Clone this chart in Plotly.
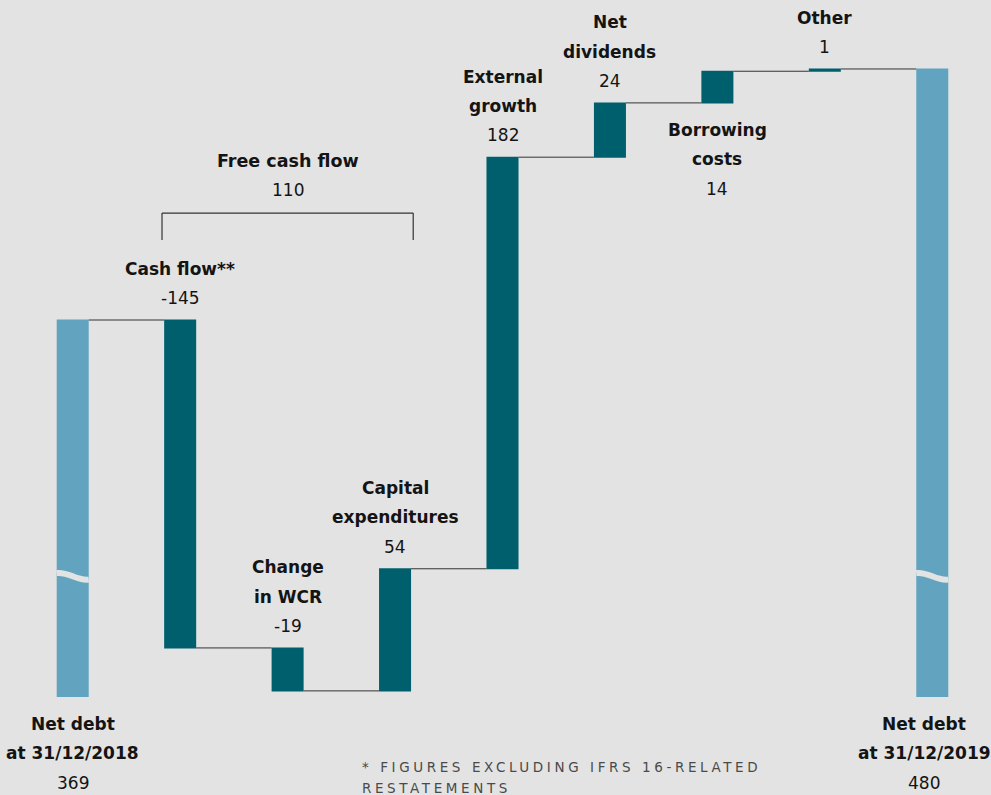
import plotly.graph_objects as go

# ---------------- data ----------------
label_lines = [
    ["Net debt", "at 31/12/2018"],
    ["Cash flow**"],
    ["Change", "in WCR"],
    ["Capital", "expenditures"],
    ["External", "growth"],
    ["Net", "dividends"],
    ["Borrowing", "costs"],
    ["Other"],
    ["Net debt", "at 31/12/2019"],
]
values = [369, -145, -19, 54, 182, 24, 14, 1, 480]
measures = ["absolute", "relative", "relative", "relative", "relative",
            "relative", "relative", "relative", "total"]
label_side = ["below", "above", "above", "above", "above", "above", "below", "above", "below"]
fcf_label = "Free cash flow"
fcf_members = [1, 2, 3]
footnote_lines = ["* FIGURES EXCLUDING IFRS 16-RELATED", "RESTATEMENTS"]

# ---------------- style ----------------
BG = "#e3e3e3"
DARK = "#005f6d"
LIGHT = "#62a4bf"
TXT = "#141414"
FONT = "DejaVu Sans"
FS = 17
Y_MIN, Y_MAX = 202.3, 510.5
BAR_W = 0.298

x = list(range(len(values)))

fig = go.Figure(go.Waterfall(
    x=x, y=values, measure=measures,
    width=[BAR_W] * len(values),
    increasing=dict(marker=dict(color=DARK)),
    decreasing=dict(marker=dict(color=DARK)),
    totals=dict(marker=dict(color=LIGHT)),
    connector=dict(mode="between", line=dict(color="#333333", width=1)),
    textinfo="none", hoverinfo="skip",
))

# levels from the data
tops, bottoms = [], []
level = 0
for v, m in zip(values, measures):
    if m == "absolute":
        level = v
        tops.append(v); bottoms.append(Y_MIN)
    elif m == "total":
        tops.append(level); bottoms.append(Y_MIN)
    else:
        before = level
        level = level + v
        tops.append(max(before, level)); bottoms.append(min(before, level))

annotations = []
STEP = 29.3
for i, (lines, v, side) in enumerate(zip(label_lines, values, label_side)):
    xshift = -8 if i == len(values) - 1 else 0
    if side == "above":
        stack = [(str(v), False)] + [(l, True) for l in reversed(lines)]
        for k, (t, bold) in enumerate(stack):
            annotations.append(dict(
                x=i, y=tops[i], xref="x", yref="y", yanchor="middle", xanchor="center",
                yshift=22 + STEP * k, xshift=xshift, showarrow=False,
                text=f"<b>{t}</b>" if bold else t,
                font=dict(family=FONT, size=FS, color=TXT)))
    else:
        stack = [(l, True) for l in lines] + [(str(v), False)]
        for k, (t, bold) in enumerate(stack):
            annotations.append(dict(
                x=i, y=bottoms[i], xref="x", yref="y", yanchor="middle", xanchor="center",
                yshift=-(27 + STEP * k), xshift=xshift, showarrow=False,
                text=f"<b>{t}</b>" if bold else t,
                font=dict(family=FONT, size=FS, color=TXT)))

# Free cash flow bracket
fcf_value = -sum(values[i] for i in fcf_members)
BR_Y = 416.3
BR_TICK = 11.9
bx0 = fcf_members[0] - BAR_W / 2 - 0.02
bx1 = fcf_members[-1] + BAR_W / 2 + 0.02
shapes = [
    dict(type="line", xref="x", yref="y", x0=bx0, x1=bx1, y0=BR_Y, y1=BR_Y,
         line=dict(color="#333333", width=1.2)),
    dict(type="line", xref="x", yref="y", x0=bx0, x1=bx0, y0=BR_Y, y1=BR_Y - BR_TICK,
         line=dict(color="#333333", width=1.2)),
    dict(type="line", xref="x", yref="y", x0=bx1, x1=bx1, y0=BR_Y, y1=BR_Y - BR_TICK,
         line=dict(color="#333333", width=1.2)),
]
bx_mid = (fcf_members[0] + fcf_members[-1]) / 2
annotations.append(dict(x=bx_mid, y=BR_Y, xref="x", yref="y", yanchor="middle", yshift=23,
                        showarrow=False, text=str(fcf_value),
                        font=dict(family=FONT, size=FS, color=TXT)))
annotations.append(dict(x=bx_mid, y=BR_Y, xref="x", yref="y", yanchor="middle", yshift=52,
                        showarrow=False, text=f"<b>{fcf_label}</b>",
                        font=dict(family=FONT, size=FS + 0.5, color=TXT)))

# axis-break waves on the total bars
BRK_HI, BRK_LO = 257.1, 254.2
hw = BAR_W / 2
for i, m in enumerate(measures):
    if m in ("absolute", "total"):
        path = (f"M {i - hw},{BRK_HI} C {i - 0.03},{BRK_HI + 0.6} "
                f"{i + 0.03},{BRK_LO - 0.6} {i + hw},{BRK_LO}")
        shapes.append(dict(type="path", xref="x", yref="y", path=path,
                           line=dict(color=BG, width=6)))

# footnote
for k, t in enumerate(footnote_lines):
    annotations.append(dict(x=(360 - 19) / 967, y=0, xref="paper", yref="paper",
                            xanchor="left", yanchor="middle", align="left",
                            yshift=-70 - 21 * k, showarrow=False, text=t,
                            font=dict(family=FONT, size=13.5, color="#4a4a4a")))

fig.update_layout(
    width=991, height=795,
    margin=dict(l=19, r=5, t=0, b=98),
    paper_bgcolor=BG, plot_bgcolor=BG,
    showlegend=False,
    xaxis=dict(range=[-0.5, len(values) - 0.5], visible=False, fixedrange=True),
    yaxis=dict(range=[Y_MIN, Y_MAX], visible=False, fixedrange=True),
    shapes=shapes, annotations=annotations,
)

post = """
document.body.style.margin = '0';
document.body.style.padding = '0';
document.body.style.overflow = 'hidden';
document.querySelectorAll('.annotation-text').forEach(function(t){
  var s = t.textContent;
  if (s.indexOf('FIGURES') >= 0 || s.indexOf('RESTATEMENTS') >= 0) {
    t.style.letterSpacing = '3.6px';
  }
});
"""
fig.write_html("out.html", post_script=post, config={"displayModeBar": False})
